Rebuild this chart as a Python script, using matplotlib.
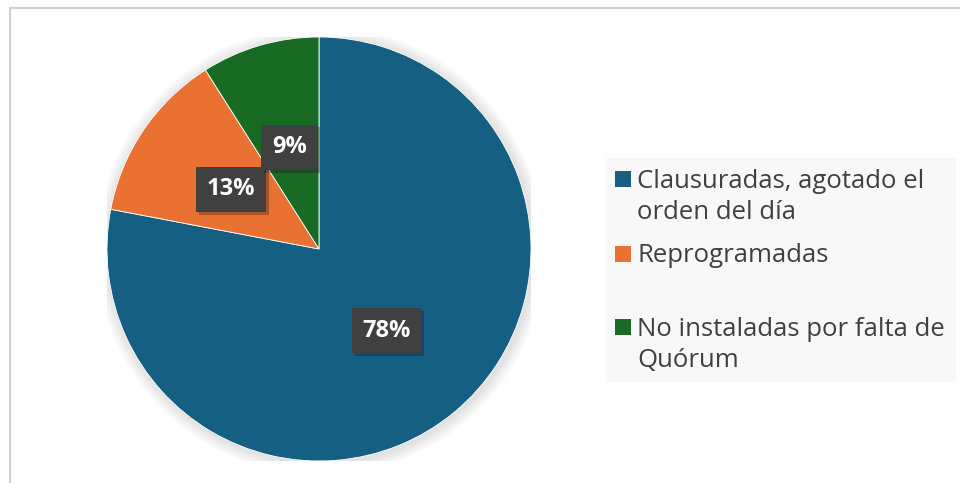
import matplotlib.pyplot as plt
import matplotlib.patheffects as pe
from matplotlib.patches import Rectangle, Circle

categories = ['Clausuradas, agotado el\norden del día', 'Reprogramadas',
              'No instaladas por falta de\nQuórum']
values = [78, 13, 9]
colors = ['#156082', '#E97132', '#196B24']

plt.rcParams['font.family'] = ['Open Sans', 'DejaVu Sans']

fig = plt.figure(figsize=(9.6, 4.83), dpi=100)
W, H = 960, 483

# chart frame (right and bottom edges fall outside the picture)
fig.patches.append(Rectangle((10 / W, -0.1), 1.0, 1.1 - 8 / H, transform=fig.transFigure,
                             fill=False, edgecolor='#d0d0d0', linewidth=1.5))

cx, cy, r = 319, 249, 212
ax = fig.add_axes([(cx - r) / W, 1 - (cy + r) / H, 2 * r / W, 2 * r / H])

# soft shadow around the pie
for i in range(10):
    ax.add_patch(Circle((0.008, -0.008), 1.0 + 0.006 * (10 - i), color='black',
                        alpha=0.012, linewidth=0, zorder=0))

wedges, texts, autotexts = ax.pie(
    values, colors=colors, startangle=90, counterclock=False,
    autopct='%1.0f%%', pctdistance=0.5,
    wedgeprops=dict(edgecolor='white', linewidth=0.6),
    textprops=dict(color='white', fontsize=17, fontweight='bold'))
for t in autotexts:
    t.set_bbox(dict(boxstyle='square,pad=0.45', facecolor='#404040', edgecolor='none',
                    path_effects=[pe.SimplePatchShadow(offset=(2, -2), alpha=0.3),
                                  pe.Normal()]))
ax.set_xlim(-1, 1)
ax.set_ylim(-1, 1)
ax.set_aspect('auto')
ax.axis('off')

# legend
fig.patches.append(Rectangle((606 / W, 1 - 382 / H), 350 / W, 224 / H,
                             transform=fig.transFigure, facecolor='#f8f8f8',
                             edgecolor='none'))
baselines = [187, 262, 335]
line_step = 32
for label, col, y in zip(categories, colors, baselines):
    fig.patches.append(Rectangle((615 / W, 1 - y / H), 16 / W, 16 / H,
                                 transform=fig.transFigure, facecolor=col,
                                 edgecolor='none'))
    # baseline alignment refers to the last line of a multi-line text
    y_last = y + line_step * label.count('\n')
    fig.text(637 / W, 1 - y_last / H, label, fontsize=18.5, color='#404040',
             va='baseline', ha='left', linespacing=1.3)

fig.savefig('out.png', dpi=100)
